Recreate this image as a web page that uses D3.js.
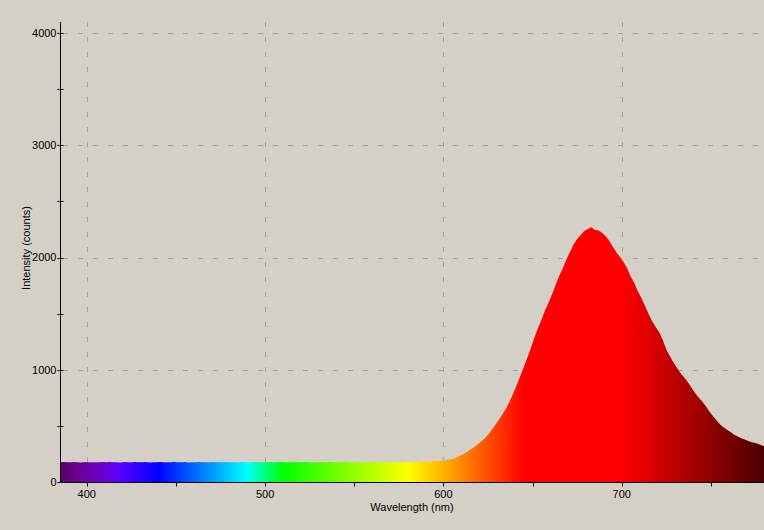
<!DOCTYPE html>
<html>
<head>
<meta charset="utf-8">
<script src="https://cdn.jsdelivr.net/npm/d3@7"></script>
<style>
  html, body { margin: 0; padding: 0; background: #d4d0c8; }
  svg { display: block; }
  text { font-family: "Liberation Sans", Arial, sans-serif; font-size: 11px; fill: #000; }
</style>
</head>
<body>
<script>
// ---- data ----
const startWavelength = 385;   // nm, first sample
const stepWavelength = 2;      // nm between samples
const intensity = [
  176,178,175,177,179,176,174,178,177,175,
  177,176,179,175,178,177,176,174,178,176,
  175,178,177,176,179,174,177,176,178,175,
  176,177,179,175,176,178,174,177,176,178,
  177,175,176,179,177,176,178,175,177,176,
  174,178,176,177,175,179,176,177,175,178,
  176,177,178,175,176,177,179,176,175,178,
  177,176,175,178,177,176,179,175,177,176,
  178,176,177,175,178,176,177,179,176,177,
  175,178,177,176,178,177,176,179,178,177,
  180,179,181,182,183,185,186,188,
  192,198,206,216,232,250,266,288,308,332,
  358,386,420,462,505,552,600,652,712,785,
  860,940,1020,1105,1190,1285,1370,1445,1530,1600,
  1675,1760,1840,1905,1985,2050,2115,2165,2200,2235,
  2255,2270,2245,2240,2220,2190,2150,2095,2045,2005,
  1960,1905,1830,1775,1700,1640,1570,1500,1435,1380,
  1335,1265,1180,1120,1065,1015,968,930,890,845,
  795,755,720,680,630,590,552,515,488,465,
  445,422,405,390,378,366,355,347,336,324,
  314
];
const xMajorTicks = [400, 500, 600, 700];
const xMinorTicks = [450, 550, 650, 750];
const yMajorTicks = [0, 1000, 2000, 3000, 4000];
const yMinorTicks = [500, 1500, 2500, 3500];
const xTitle = "Wavelength (nm)";
const yTitle = "Intensity (counts)";

const data = intensity.map((v, i) => ({ w: startWavelength + i * stepWavelength, v }));

// ---- layout ----
const W = 764, H = 530;
const mLeft = 60.5, mRight = 764, mTop = 22, mBottom = 482;

const x = d3.scaleLinear().domain([385, 780]).range([60, 764.4]);
const y = d3.scaleLinear().domain([0, 4000]).range([482, 33]);

// visible spectrum colour (style)
function spectrumColor(w) {
  let r = 0, g = 0, b = 0;
  if (w < 440) { r = -(w - 440) / 60; b = 1; }
  else if (w < 490) { g = (w - 440) / 50; b = 1; }
  else if (w < 510) { g = 1; b = -(w - 510) / 20; }
  else if (w < 580) { r = (w - 510) / 70; g = 1; }
  else if (w < 645) { r = 1; g = -(w - 645) / 65; }
  else { r = 1; }
  let f = 1;
  if (w < 420) f = 0.3 + 0.7 * (w - 380) / 40;
  else if (w > 700) f = 0.3 + 0.7 * (780 - w) / 80;
  const c = v => Math.round(255 * Math.max(0, Math.min(1, v * f)));
  return `rgb(${c(r)},${c(g)},${c(b)})`;
}

const svg = d3.select("body").append("svg").attr("width", W).attr("height", H);
svg.append("rect").attr("width", W).attr("height", H).attr("fill", "#d4d0c8");

const defs = svg.append("defs");
const grad = defs.append("linearGradient")
  .attr("id", "spec").attr("gradientUnits", "userSpaceOnUse")
  .attr("x1", x(380)).attr("x2", x(780)).attr("y1", 0).attr("y2", 0);
d3.range(380, 781, 5).forEach(w => {
  grad.append("stop").attr("offset", (w - 380) / 400).attr("stop-color", spectrumColor(w));
});
defs.append("clipPath").attr("id", "plot")
  .append("rect").attr("x", 61).attr("y", mTop).attr("width", mRight - 61).attr("height", mBottom - mTop);

// grid
const grid = svg.append("g").attr("stroke", "#a4a4a4").attr("stroke-width", 1).attr("stroke-dasharray", "5,10");
xMajorTicks.forEach(t => {
  grid.append("line").attr("x1", Math.round(x(t)) + 0.5).attr("x2", Math.round(x(t)) + 0.5)
    .attr("y1", mTop).attr("y2", mBottom);
});
yMajorTicks.filter(t => t > 0).forEach(t => {
  grid.append("line").attr("x1", 63).attr("x2", mRight)
    .attr("y1", Math.round(y(t)) + 0.5).attr("y2", Math.round(y(t)) + 0.5);
});

// spectrum area
const area = d3.area().x(d => x(d.w)).y0(y(0)).y1(d => y(d.v)).curve(d3.curveLinear);
svg.append("path").datum(data).attr("clip-path", "url(#plot)")
  .attr("d", area).attr("fill", "url(#spec)");

// y axis
const yAxis = svg.append("g").attr("transform", `translate(${mLeft},0)`);
yAxis.append("line").attr("x1", 0).attr("x2", 0).attr("y1", mTop).attr("y2", mBottom + 1)
  .attr("stroke", "#000");
yMajorTicks.concat(yMinorTicks).forEach(t => {
  const yy = Math.round(y(t)) + 0.5;
  yAxis.append("line").attr("x1", -3).attr("x2", 3).attr("y1", yy).attr("y2", yy).attr("stroke", "#000");
});
yAxis.selectAll("text.tl").data(yMajorTicks).enter().append("text")
  .attr("x", -4).attr("y", d => y(d)).attr("dy", "0.36em").attr("text-anchor", "end")
  .text(d => d);

// x axis
const xAxis = svg.append("g").attr("transform", `translate(0,${mBottom + 0.5})`);
xAxis.append("line").attr("x1", 60).attr("x2", mRight).attr("stroke", "#000");
xMajorTicks.concat(xMinorTicks).forEach(t => {
  const xx = Math.round(x(t)) + 0.5;
  xAxis.append("line").attr("x1", xx).attr("x2", xx).attr("y1", 0).attr("y2", 4).attr("stroke", "#000");
});
xAxis.selectAll("text.tl").data(xMajorTicks).enter().append("text")
  .attr("x", d => x(d)).attr("y", 15).attr("text-anchor", "middle")
  .text(d => d);

// titles
svg.append("text").attr("x", 412).attr("y", 511).attr("text-anchor", "middle").text(xTitle);
svg.append("text").attr("transform", "translate(29.5,248) rotate(-90)")
  .attr("text-anchor", "middle").text(yTitle);
</script>
</body>
</html>
